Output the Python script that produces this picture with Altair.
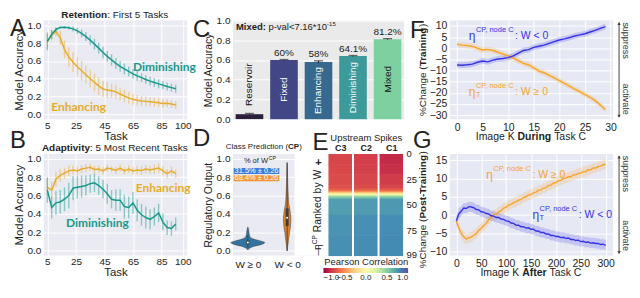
import altair as alt
import pandas as pd

FONT = "Liberation Sans"
LATO = "Lato"
INK = "#222222"
TEAL = "#17998a"
GOLD = "#e7ac2b"
BLUE = "#3434e6"
ORANGE = "#f7a42a"
BG = "#eaeaf2"
BG_C = "#eaeaea"
BG_FG = "#e6e8f4"

# ---------------- data ----------------
tasks = list(range(5, 96, 3))
a_dim = [0.82, 0.90, 0.955, 0.978, 0.98, 0.975, 0.962, 0.94, 0.91, 0.875, 0.835, 0.79, 0.745, 0.695, 0.652,
         0.612, 0.573, 0.54, 0.51, 0.482, 0.455, 0.432, 0.412, 0.392, 0.373, 0.357, 0.342, 0.328, 0.313, 0.300, 0.288]
a_dim_err = [0.10, 0.05, 0.025, 0.015, 0.015, 0.02, 0.03, 0.035, 0.045, 0.05, 0.055, 0.06, 0.06, 0.065, 0.06,
             0.065, 0.06, 0.06, 0.06, 0.055, 0.055, 0.055, 0.05, 0.05, 0.05, 0.05, 0.05, 0.045, 0.045, 0.045, 0.045]
a_enh = [0.82, 0.89, 0.93, 0.86, 0.73, 0.645, 0.585, 0.535, 0.49, 0.445, 0.40, 0.36, 0.32, 0.285, 0.272,
         0.265, 0.252, 0.228, 0.205, 0.185, 0.168, 0.158, 0.15, 0.145, 0.14, 0.135, 0.13, 0.122, 0.125, 0.115, 0.105]
a_enh_err = [0.08, 0.06, 0.05, 0.08, 0.10, 0.11, 0.11, 0.11, 0.11, 0.10, 0.10, 0.10, 0.10, 0.09, 0.09,
             0.08, 0.08, 0.07, 0.07, 0.065, 0.06, 0.06, 0.055, 0.055, 0.05, 0.05, 0.05, 0.05, 0.045, 0.045, 0.045]
b_enh = [0.69, 0.66, 0.78, 0.82, 0.845, 0.87, 0.88, 0.87, 0.89, 0.90, 0.91, 0.885, 0.89, 0.87, 0.90,
         0.89, 0.875, 0.90, 0.87, 0.89, 0.87, 0.88, 0.875, 0.89, 0.88, 0.89, 0.90, 0.87, 0.84, 0.87, 0.84]
b_enh_err = [0.10, 0.09, 0.08, 0.07, 0.06, 0.06, 0.05, 0.05, 0.045, 0.045, 0.04, 0.045, 0.04, 0.04, 0.04,
             0.035, 0.04, 0.04, 0.04, 0.04, 0.04, 0.045, 0.05, 0.045, 0.045, 0.05, 0.05, 0.05, 0.05, 0.05, 0.045]
b_dim = [0.66, 0.47, 0.52, 0.53, 0.56, 0.60, 0.68, 0.69, 0.70, 0.71, 0.73, 0.74, 0.71, 0.67, 0.62,
         0.56, 0.55, 0.55, 0.48, 0.47, 0.52, 0.44, 0.39, 0.36, 0.34, 0.37, 0.41, 0.31, 0.25, 0.24, 0.29]
b_dim_err = [0.14, 0.12, 0.13, 0.13, 0.13, 0.14, 0.13, 0.12, 0.12, 0.11, 0.10, 0.10, 0.10, 0.10, 0.11,
             0.10, 0.12, 0.12, 0.13, 0.12, 0.12, 0.12, 0.12, 0.12, 0.11, 0.10, 0.10, 0.09, 0.08, 0.08, 0.07]

c_names = ["Reservoir", "Fixed", "Enhancing", "Diminishing", "Mixed"]
c_acc = [0.05, 0.600, 0.580, 0.641, 0.812]
c_err = [0.008, 0.005, 0.012, 0.005, 0.005]
c_pct = ["", "60%", "58%", "64.1%", "81.2%"]
c_colors = ["#2c1f3e", "#424687", "#37688e", "#3c9a9b", "#7ed0a1"]

d_pos_y = [0.01, 0.03, 0.05, 0.07, 0.09, 0.11, 0.13, 0.15, 0.17, 0.20, 0.23, 0.26]
d_pos_hw = [0.0, 0.05, 0.16, 0.35, 0.43, 0.30, 0.13, 0.06, 0.04, 0.03, 0.02, 0.0]
d_neg_y = [0.0, 0.05, 0.10, 0.15, 0.20, 0.25, 0.30, 0.35, 0.40, 0.45, 0.50, 0.60, 0.70, 0.80, 0.90, 0.96]
d_neg_hw = [0.0, 0.015, 0.03, 0.045, 0.06, 0.08, 0.09, 0.095, 0.085, 0.068, 0.045, 0.028, 0.018, 0.011, 0.005, 0.0]
d_pos_box = [0.03, 0.07, 0.09, 0.11, 0.17]
d_neg_box = [0.0, 0.27, 0.36, 0.46, 0.95]
d_share = ["31.5% ± 0.26", "68.4% ± 0.26"]

e_cols = ["C3", "C2", "C1"]
e_edges = [0, 10, 20, 30, 34, 36, 37, 38, 39, 40, 41, 42, 44, 60, 80, 100]
e_c3 = [-0.76, -0.75, -0.74, -0.72, -0.66, -0.55, -0.40, -0.20, 0.0, 0.2, 0.38, 0.55, 0.72, 0.76, 0.77]
e_c2 = [-0.79, -0.78, -0.76, -0.74, -0.67, -0.56, -0.42, -0.22, -0.02, 0.2, 0.38, 0.56, 0.73, 0.77, 0.78]
e_c1 = [-0.86, -0.84, -0.80, -0.76, -0.68, -0.57, -0.42, -0.22, -0.02, 0.2, 0.40, 0.57, 0.74, 0.78, 0.79]

f_k = list(range(30))
f_neg = [-7.5, -7.6, -7.4, -7.1, -6.3, -5.7, -6.1, -5.3, -4.8, -4.6, -4.2, -3.4, -2.2, -1.0, -0.6,
         0.4, 0.9, 1.4, 2.2, 3.0, 3.7, 4.2, 4.8, 5.5, 6.0, 6.5, 7.3, 8.0, 8.9, 9.7]
f_pos = [1.8, 1.4, 1.2, 0.8, 0.0, -0.8, -0.5, -1.0, -1.8, -2.6, -3.4, -4.4, -5.6, -6.8, -7.5,
         -8.8, -10.3, -11.0, -12.2, -13.3, -14.5, -15.8, -17.0, -18.3, -19.5, -20.8, -22.0, -23.5, -25.5, -27.5]
f_band = 1.3

g_k = list(range(0, 301, 5))
g_pos = [-1.6, -3.6, -5.1, -6.0, -6.6, -6.2, -6.1, -5.5, -5.1, -4.2, -3.7, -2.9, -2.3, -1.3, -0.6, 0.1,
         0.2, 0.9, 1.2, 1.9, 2.1, 2.7, 2.9, 3.4, 3.6, 4.1, 4.3, 4.8, 5.0, 5.5, 5.6, 6.1, 6.3, 6.8, 6.9,
         7.4, 7.5, 8.1, 8.2, 8.8, 8.9, 9.4, 9.5, 10.0, 10.1, 10.5, 10.5, 11.0, 11.0, 11.4, 11.5, 11.9,
         11.9, 12.4, 12.4, 12.9, 12.9, 13.3, 13.4, 13.8, 13.9]
g_neg = [-1.6, 0.3, 1.1, 1.9, 1.8, 2.3, 2.2, 2.0, 1.5, 1.4, 0.9, 0.8, 0.4, 0.3, -0.2, -0.3, -0.7,
         -0.7, -1.1, -1.2, -1.6, -1.7, -2.2, -2.3, -2.8, -2.8, -3.2, -3.2, -3.6, -3.5, -3.9, -3.9, -4.4,
         -4.4, -4.8, -4.8, -5.2, -5.2, -5.6, -5.6, -5.9, -5.9, -6.2, -6.1, -6.4, -6.3, -6.7, -6.7, -7.0,
         -6.9, -7.3, -7.2, -7.5, -7.4, -7.7, -7.6, -7.8, -7.8, -8.1, -8.0, -8.3]
g_band = 1.4

# ---------------- layout ----------------
W1, W2, W3 = 144, 172, 164
HTOP, HBOT = 99, 102
WD, WE = 62, 77
EX0 = W2 - WE
ROWSP, COLSP = 35, 46

REG_W = {' ': 278, '%': 889, '(': 333, ')': 333, '*': 389, ',': 278, '-': 333, '.': 278, ':': 278,
         '<': 584, '≥': 549, '±': 549, 'A': 667, 'C': 722, 'D': 722, 'E': 667, 'F': 611, 'I': 278,
         'K': 667, 'M': 833, 'P': 667, 'R': 722, 'T': 611, 'W': 944, 'a': 556, 'b': 556, 'c': 500,
         'd': 556, 'e': 556, 'f': 278, 'g': 556, 'h': 556, 'i': 222, 'k': 500, 'l': 222, 'm': 833,
         'n': 556, 'o': 556, 'p': 556, 'r': 333, 's': 500, 't': 278, 'u': 556, 'v': 500, 'y': 500, 'x': 500}
BOLD_W = {' ': 278, ':': 333, '(': 333, ')': 333, '-': 333, 'A': 722, 'C': 722, 'D': 722, 'M': 833,
          'P': 667, 'R': 722, 'T': 611, 'a': 556, 'd': 611, 'e': 556, 'f': 333, 'g': 611, 'i': 278,
          'n': 611, 'o': 611, 'p': 611, 'r': 389, 's': 556, 't': 333, 'u': 611, 'v': 556, 'x': 556, 'y': 556}


def tw(s, size, bold=False):
    t = BOLD_W if bold else REG_W
    return sum(t.get(c, 556) for c in s) * size / 1000.0


ONE = pd.DataFrame({"o": [0]})


def txt(s, x, y, size=10, bold=False, color=INK, align="left", baseline="alphabetic", angle=0, font=FONT):
    props = dict(text=s, font=font, fontSize=size, fontWeight="bold" if bold else "normal",
                 color=color, align=align, baseline=baseline)
    if angle:
        props["angle"] = angle
    return alt.Chart(ONE).mark_text(**props).encode(x=alt.value(x), y=alt.value(y))


def rich(parts, x, y, size=10, color=INK, center=True, vertical=False):
    items = []
    for p in parts:
        items.append((p[0], p[1], p[2] if len(p) > 2 else size, p[3] if len(p) > 3 else 0))
    total = sum(tw(t, s, b) for t, b, s, _ in items)
    out = []
    if vertical:
        cur = y + total / 2 if center else y
        for t, b, s, off in items:
            lead = tw(t[: len(t) - len(t.lstrip())], s, b)
            out.append(txt(t.strip(), x + off, cur - lead, s, b, color, angle=270, baseline="middle"))
            cur -= tw(t, s, b)
    else:
        cur = x - total / 2 if center else x
        for t, b, s, off in items:
            lead = tw(t[: len(t) - len(t.lstrip())], s, b)
            out.append(txt(t.strip(), cur + lead, y + off, s, b, color))
            cur += tw(t, s, b)
    return out


# ---------------- panels A / B ----------------
def acc_panel(dim, dim_err, enh, enh_err, tb, tr, letter, let_y, lab_dim, lab_enh, H):
    xs = alt.Scale(domain=[2.5, 103], nice=False, zero=False)
    xax = alt.Axis(values=[5, 25, 45, 65, 85, 100], title="Task", labelPadding=1, titlePadding=0,
                   titleFontSize=11.5)
    ys = alt.Scale(domain=[-0.055, 1.055], nice=False, zero=False)
    yax = alt.Axis(values=[0, 0.2, 0.4, 0.6, 0.8, 1.0], format=".1f", title="Model Accuracy",
                   labelPadding=3, titlePadding=3, titleFontSize=11.5)

    def X(f):
        return alt.X(f, scale=xs, axis=xax)

    def Y(f):
        return alt.Y(f, scale=ys, axis=yax)

    layers = []
    for vals, errs, col in ((enh, enh_err, GOLD), (dim, dim_err, TEAL)):
        df = pd.DataFrame({"task": tasks, "val": vals, "err": errs})
        base = alt.Chart(df).transform_calculate(lo="datum.val - datum.err", hi="datum.val + datum.err")
        layers.append(base.mark_rule(color=col, strokeWidth=1.4, opacity=0.45)
                      .encode(x=X("task:Q"), y=Y("lo:Q"), y2="hi:Q"))
        layers.append(base.mark_line(color=col, strokeWidth=1.5).encode(x=X("task:Q"), y=Y("val:Q")))
    for (name, tx, ty), col in ((lab_dim, TEAL), (lab_enh, GOLD)):
        ldf = pd.DataFrame({"task": [tx], "val": [ty]})
        layers.append(alt.Chart(ldf).mark_text(text=name, font=LATO, fontWeight="bold", fontSize=12,
                                               color=col, align="left")
                      .encode(x=X("task:Q"), y=Y("val:Q")))
    layers += rich([(tb, True), (tr, False)], W1 / 2, -3, 10)
    layers.append(txt(letter, -34, let_y, 24))
    return alt.layer(*layers).properties(width=W1, height=H, view=alt.ViewBackground(fill=BG))


# ---------------- panel C ----------------
def panel_c():
    df = pd.DataFrame({"name": c_names, "acc": c_acc, "err": c_err, "pct": c_pct})
    xs = alt.X("name:N", sort=c_names, axis=None, scale=alt.Scale(paddingInner=0.2, paddingOuter=0.08))
    ys = alt.Scale(domain=[0, 1], nice=False)
    yax = alt.Axis(values=[0, 0.2, 0.4, 0.6, 0.8, 1.0], format=".1f", title="Model Accuracy",
                   titleFontSize=10.5, labelPadding=3, titlePadding=3)

    def Y(f):
        return alt.Y(f, scale=ys, axis=yax)

    base = alt.Chart(df).transform_calculate(
        lo="datum.acc - datum.err", hi="datum.acc + datum.err",
        ly="datum.name == 'Reservoir' ? 0.35 : datum.acc / 2")
    layers = [
        base.mark_bar().encode(x=xs, y=Y("acc:Q"),
                               color=alt.Color("name:N", scale=alt.Scale(domain=c_names, range=c_colors),
                                               legend=None)),
        base.mark_rule(color="#333333", strokeWidth=1.2).encode(x=xs, y=Y("lo:Q"), y2="hi:Q"),
        base.mark_tick(color="#333333", thickness=1.3, size=9).encode(x=xs, y=Y("hi:Q")),
        base.transform_filter("datum.name == 'Reservoir' || datum.name == 'Mixed'")
            .mark_text(angle=270, fontSize=10, baseline="middle", align="center", color="#111111")
            .encode(x=xs, y=Y("ly:Q"), text="name:N"),
        base.transform_filter("datum.name != 'Reservoir' && datum.name != 'Mixed'")
            .mark_text(angle=270, fontSize=10, baseline="middle", align="center", color="white")
            .encode(x=xs, y=Y("ly:Q"), text="name:N"),
        base.transform_filter("datum.pct != ''")
            .mark_text(fontSize=10, baseline="bottom", dy=-2, color=INK)
            .encode(x=xs, y=Y("hi:Q"), text="pct:N"),
    ]
    layers += rich([("Mixed:", True), (" p-val<7.16*10", False), ("-15", False, 6, -4)], 3, 9, 9.5,
                   center=False)
    layers.append(txt("C", -40, 16, 24))
    return alt.layer(*layers).properties(width=W2, height=HTOP, view=alt.ViewBackground(fill=BG_C))


# ---------------- panels D + E (one frame, independent scales) ----------------
def panel_de():
    H = HBOT
    dxs = alt.Scale(domain=[-0.38, 1.19], range=[0, WD], nice=False, zero=False)
    dxax = alt.Axis(orient="bottom", values=[0, 1], labelExpr="datum.value == 0 ? 'W ≥ 0' : 'W < 0'",
                    title=None, grid=False, labelPadding=4, labelFontSize=10)
    dys = alt.Scale(domain=[-0.05, 1.05], nice=False, zero=False)
    dyax = alt.Axis(orient="left", values=[0, 0.2, 0.4, 0.6, 0.8, 1.0], format=".1f",
                    title="Regulatory Output", titleFontSize=10.5, labelPadding=3, titlePadding=3, grid=True)

    def X(f):
        return alt.X(f, scale=dxs, axis=dxax)

    def Y(f):
        return alt.Y(f, scale=dys, axis=dyax)

    d_layers = []
    for cx, vy, hws, col, box in ((0, d_pos_y, d_pos_hw, "#3274a1", d_pos_box),
                                  (1, d_neg_y, d_neg_hw, "#e1812c", d_neg_box)):
        vdf = pd.DataFrame({"y": vy, "hw": hws, "c": [cx] * len(vy)})
        base = alt.Chart(vdf).transform_calculate(l="datum.c - datum.hw", r="datum.c + datum.hw")
        d_layers.append(base.mark_area(orient="horizontal", fill=col, stroke="#3d3d3d", strokeWidth=0.5,
                                       interpolate="monotone")
                        .encode(y=Y("y:Q"), x=X("l:Q"), x2="r:Q"))
        bdf = pd.DataFrame({"c": [cx], "w0": [box[0]], "q1": [box[1]], "med": [box[2]],
                            "q3": [box[3]], "w1": [box[4]]})
        bb = alt.Chart(bdf)
        d_layers.append(bb.mark_rule(color="#3d3d3d", strokeWidth=0.9).encode(x=X("c:Q"), y=Y("w0:Q"), y2="w1:Q"))
        d_layers.append(bb.mark_rule(color="#3d3d3d", strokeWidth=3).encode(x=X("c:Q"), y=Y("q1:Q"), y2="q3:Q"))
        d_layers.append(bb.mark_point(color="white", filled=True, size=4, opacity=1)
                        .encode(x=X("c:Q"), y=Y("med:Q")))
    for (y0, y1, ty), col, label in (((0.832, 0.897, 0.864), "#3c7dd9", d_share[0]),
                                     ((0.755, 0.818, 0.786), "#f29535", d_share[1])):
        rdf = pd.DataFrame({"x0": [-0.36], "x1": [0.80], "y0": [y0], "y1": [y1], "tx": [0.22], "ty": [ty]})
        rb = alt.Chart(rdf)
        d_layers.append(rb.mark_rect(color=col).encode(x=X("x0:Q"), x2="x1:Q", y=Y("y0:Q"), y2="y1:Q"))
        d_layers.append(rb.mark_text(text=label, fontSize=7.5, color="white", baseline="middle", align="center")
                        .encode(x=X("tx:Q"), y=Y("ty:Q")))
    hb = alt.Chart(pd.DataFrame({"tx": [-0.1], "ty": [0.93]}))
    d_layers.append(hb.mark_text(text="% of W", fontSize=7.5, color=INK, align="left", baseline="bottom", dy=-0.5)
                    .encode(x=X("tx:Q"), y=Y("ty:Q")))
    d_layers.append(hb.mark_text(text="CP", fontSize=5.5, color=INK, align="left", baseline="bottom",
                                 dx=tw("% of W", 7.5) + 0.5, dy=-4).encode(x=X("tx:Q"), y=Y("ty:Q")))
    d_layers += rich([("Class Prediction (", False), ("CP", True), (")", False)], WD / 2, -5, 8)
    d_layers.append(txt("D", -40, -8, 24))

    # --- E ---
    rows = []
    for ci, (col, vals) in enumerate(zip(e_cols, (e_c3, e_c2, e_c1))):
        for i, v in enumerate(vals):
            rows.append({"ci": ci, "r0": e_edges[i], "r1": e_edges[i + 1], "v": v})
    df = pd.DataFrame(rows)
    exs = alt.Scale(domain=[0, len(e_cols)], range=[EX0, W2], nice=False, zero=False)
    lab_expr = "datum.value < 1 ? '%s' : datum.value < 2 ? '%s' : '%s'" % tuple(e_cols)
    exax = alt.Axis(orient="top", values=[0.5, 1.5, 2.5], labelExpr=lab_expr, title="Upstream Spikes",
                    labelFontWeight="bold", labelFontSize=9, titleFontSize=9.5, labelPadding=1, titlePadding=2,
                    grid=False, labelAngle=0)
    eys = alt.Scale(domain=[0, 100], range=[0, H], nice=False, zero=False)
    eyax = alt.Axis(orient="right", values=[0, 25, 50, 75, 99], title=None, grid=False, labelFontSize=9.5,
                    labelPadding=2)
    cscale = alt.Scale(scheme="spectral", domain=[-1, 1])
    heat = alt.Chart(df).transform_calculate(ci1="datum.ci + 1").mark_rect(
        xOffset=1, x2Offset=-1, y2Offset=0.6).encode(
        x=alt.X("ci:Q", scale=exs, axis=exax), x2="ci1:Q",
        y=alt.Y("r0:Q", scale=eys, axis=eyax), y2="r1:Q",
        color=alt.Color("v:Q", scale=cscale,
                        legend=alt.Legend(type="gradient", orient="none", legendX=EX0 - 4, legendY=H + 2,
                                          direction="horizontal",
                                          gradientLength=WE + 8, gradientThickness=5, title="Pearson Correlation",
                                          titleFontSize=9.5, titleFontWeight="normal", titleAnchor="middle",
                                          titlePadding=1, labelFontSize=8, labelOffset=1, labelOverlap=False,
                                          labelAlign="center",
                                          values=[-1, -0.5, 0, 0.5, 1], format=".1f", titleLimit=200,
                                          labelColor=INK, titleColor=INK)),
    )
    cover = alt.Chart(ONE).mark_rect(color="white").encode(
        x=alt.value(WD), x2=alt.value(W2 + 1), y=alt.value(0), y2=alt.value(H))
    e_layers = [cover, heat]
    e_layers += rich([("η", False, 10.5), ("CP", False, 6.5, -4), (" Ranked by W", False, 10.5)],
                     EX0 - 9, H * 0.55, vertical=True)
    e_layers.append(txt("+", EX0 - 9, 9, 11, True, align="center", baseline="middle"))
    e_layers.append(txt("—", EX0 - 9, H - 5, 10, angle=270, align="center", baseline="middle"))
    e_layers.append(txt("E", EX0 - 15, -4, 24))

    return alt.layer(alt.layer(*d_layers), alt.layer(*e_layers)).resolve_scale(
        x="independent", y="independent", color="independent"
    ).properties(width=W2, height=H, view=alt.ViewBackground(fill=BG))


# ---------------- panels F / G ----------------
def change_panel(k, pos, neg, band, H, xdom, ydom, xvals, yvals, ytparts, xtparts, letter, let_x, let_y,
                 lab_pos, lab_neg, yt_shift):
    W = W3
    xs = alt.Scale(domain=xdom, nice=False, zero=False)
    xax = alt.Axis(values=xvals, title=None, labelPadding=3, labelFontSize=10.5)
    ys = alt.Scale(domain=ydom, nice=False, zero=False)
    yax = alt.Axis(values=yvals, title=None, labelPadding=3, labelFontSize=10.5)

    def X(f):
        return alt.X(f, scale=xs, axis=xax)

    def Y(f):
        return alt.Y(f, scale=ys, axis=yax)

    layers = []
    bases = []
    for vals, col in ((pos, ORANGE), (neg, BLUE)):
        df = pd.DataFrame({"k": k, "v": vals})
        base = alt.Chart(df).transform_calculate(lo="datum.v - %s" % band, hi="datum.v + %s" % band)
        bases.append((base, col))
        layers.append(base.mark_area(color=col, opacity=0.2).encode(x=X("k:Q"), y=Y("lo:Q"), y2="hi:Q"))
    for base, col in bases:
        layers.append(base.mark_line(color=col, strokeWidth=1.4).encode(x=X("k:Q"), y=Y("v:Q")))

    def eta(xv, yv, color, rest, sub):
        d = alt.Chart(pd.DataFrame({"k": [xv], "v": [yv]}))
        enc = dict(x=X("k:Q"), y=Y("v:Q"))
        out = [d.mark_text(text="η", fontSize=12, color=color, align="left", font=FONT).encode(**enc)]
        dx = tw("η", 12) + 0.5
        if sub:
            out.append(d.mark_text(text=sub, fontSize=7.5, color=color, align="left", dx=dx, dy=3,
                                   font=FONT).encode(**enc))
        out.append(d.mark_text(text="CP, node C", fontSize=7.5, color=color, align="left", dx=dx, dy=-6,
                               font=FONT).encode(**enc))
        out.append(d.mark_text(text=rest, fontSize=10.5, color=color, align="left",
                               dx=dx + tw("CP, node C", 7.5) + 0.5, font=FONT).encode(**enc))
        return out

    layers += eta(lab_pos[0], lab_pos[1], ORANGE, ": W ≥ 0", lab_pos[2])
    layers += eta(lab_neg[0], lab_neg[1], BLUE, ": W < 0", lab_neg[2])
    layers += rich(ytparts, -27, H / 2 + yt_shift, 10, vertical=True)
    layers += rich(xtparts, W / 2, H + 21, 10.5)
    layers.append(txt(letter, let_x, let_y, 24))
    layers.append(alt.Chart(ONE).mark_rule(color="#444444", strokeWidth=1)
                  .encode(x=alt.value(W + 6), y=alt.value(2), y2=alt.value(H - 2)))
    layers.append(alt.Chart(ONE).mark_point(shape="triangle-up", filled=True, size=12, color="#444444", opacity=1)
                  .encode(x=alt.value(W + 6), y=alt.value(3)))
    layers.append(alt.Chart(ONE).mark_point(shape="triangle-down", filled=True, size=12, color="#444444", opacity=1)
                  .encode(x=alt.value(W + 6), y=alt.value(H - 3)))
    layers.append(txt("suppress", W + 13, 20, 9, color="#333333", angle=90, align="center", baseline="middle"))
    layers.append(txt("activate", W + 13, H - 20, 9, color="#333333", angle=90, align="center", baseline="middle"))
    return alt.layer(*layers).properties(width=W, height=H, view=alt.ViewBackground(fill=BG_FG))


A = acc_panel(a_dim, a_dim_err, a_enh, a_enh_err, "Retention", ": First 5 Tasks", "A", 15,
              ("Diminishing", 65, 0.53), ("Enhancing", 7.7, 0.08), HTOP)
B = acc_panel(b_dim, b_dim_err, b_enh, b_enh_err, "Adaptivity", ": 5 Most Recent Tasks", "B", -6,
              ("Diminishing", 18, 0.30), ("Enhancing", 67, 0.68), HBOT)
F = change_panel(f_k, f_pos, f_neg, f_band, HTOP, [-1.4, 30.5], [-31.8, 12.4], list(range(0, 31, 5)),
                 list(range(-30, 11, 5)), [("%Change (", False), ("Training", True), (")", False)],
                 [("Image K ", False), ("During", True), (" Task C", False)], "F", -40, 17,
                 (2.3, -19.6, "T"), (2.3, 5.6, None), 0)
G = change_panel(g_k, g_pos, g_neg, g_band, HBOT, [-13, 315], [-11.1, 16.75], list(range(0, 301, 50)),
                 list(range(-10, 16, 5)), [("%Change (", False), ("Post-Training", True), (")", False)],
                 [("Image K ", False), ("After", True), (" Task C", False)], "G", -37, -6,
                 (60, 10.9, None), (153, 0.0, "T"), 5)

chart = alt.concat(A, panel_c(), F, B, panel_de(), G, columns=3, bounds="flush",
                   spacing={"row": ROWSP, "column": COLSP}).resolve_scale(
    color="independent").resolve_legend(color="independent").properties(
    padding={"left": 2, "right": 2, "top": 1, "bottom": 2}
).configure(font=FONT).configure_axis(
    labelFont=FONT, titleFont=FONT, labelFontSize=10, titleFontSize=11, labelColor=INK, titleColor=INK,
    titleFontWeight="normal", domain=False, ticks=False, gridColor="white", gridWidth=1, grid=True
).configure_view(strokeWidth=0).configure_legend(labelFont=FONT, titleFont=FONT)

chart.save("out.html", embed_options={"renderer": "svg", "actions": False})
